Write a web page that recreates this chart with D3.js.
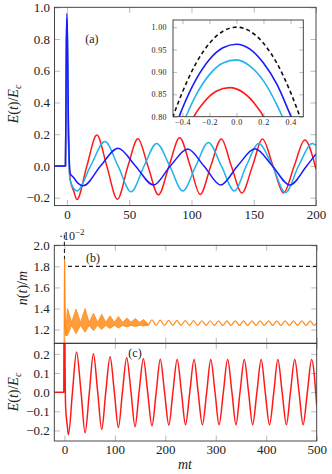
<!DOCTYPE html>
<html>
<head>
<meta charset="utf-8">
<script src="https://cdn.jsdelivr.net/npm/d3@7/dist/d3.min.js"></script>
<style>
  body { margin: 0; background: #fff; }
</style>
</head>
<body>
<div id="chart"></div>
<script>
// Valeurs

// panneau (a) : E(t)/Ec
const aXTicks = [0, 50, 100, 150, 200];
const aYTicks = [-0.2, 0, 0.2, 0.4, 0.6, 0.8, 1.0];
const aRed = [[-10,0],[-1.2,0],[-0.3,0.80],[0,0.863],[0.3,0.80],[1,0.3],[2.5,-0.08],[5.5,-0.16],[8,-0.212],[16,0],[24,0.195],[32,0],[40.5,-0.21],[49,0],[57,0.172],[65,0],[73.5,-0.182],[82,0],[90.5,0.178],[99,0],[107,-0.18],[115.5,0],[124,0.17],[132,0],[140.5,-0.17],[149,0],[157,0.17],[165.5,0],[174,-0.17],[182.5,0],[191,0.163],[200,-0.02]];
const aCyan = [[-10,0],[-1.2,0],[-0.4,0.80],[0,0.927],[0.4,0.80],[1.2,0.15],[2.5,-0.09],[5,-0.137],[8,-0.158],[19,0],[30.5,0.154],[41,0],[51.5,-0.163],[62,0],[72,0.142],[82.5,0],[93,-0.158],[103.5,0],[113.5,0.148],[124,0],[134.5,-0.158],[144,0],[154,0.141],[165,0],[175.5,-0.168],[186,0],[197,0.141],[200,0.13]];
const aBlue = [[-10,0],[-1.2,0],[-0.45,0.80],[0,0.962],[0.4,0.80],[1.3,0.2],[2.7,-0.05],[5,-0.07],[9,-0.11],[13,-0.125],[27,0],[41,0.112],[55,0],[69.5,-0.12],[83,0],[97,0.106],[110,0],[123.5,-0.12],[137,0],[151,0.108],[165,0],[179,-0.12],[192.5,0],[200,0.076]];

// encart autour du pic
const insXTicks = [-0.4, -0.2, 0, 0.2, 0.4];
const insYTicks = [0.80, 0.85, 0.90, 0.95, 1.00];
const insBlack = [[-0.49,0.783],[-0.47,0.80],[-0.4,0.855],[-0.3,0.919],[-0.2,0.964],[-0.1,0.991],[0,1.0],[0.1,0.991],[0.2,0.964],[0.3,0.919],[0.4,0.855],[0.47,0.80],[0.49,0.783]];
const insBlue = [[-0.44,0.79],[-0.425,0.80],[-0.4,0.819],[-0.3,0.883],[-0.2,0.928],[-0.1,0.954],[0,0.962],[0.1,0.951],[0.2,0.920],[0.3,0.872],[0.405,0.80],[0.42,0.79]];
const insCyan = [[-0.39,0.79],[-0.375,0.80],[-0.3,0.848],[-0.2,0.894],[-0.1,0.920],[0,0.927],[0.1,0.913],[0.2,0.880],[0.3,0.826],[0.34,0.80],[0.355,0.79]];
const insRed = [[-0.33,0.79],[-0.315,0.80],[-0.25,0.829],[-0.15,0.857],[-0.05,0.865],[0.05,0.854],[0.15,0.823],[0.2,0.80],[0.215,0.79]];

// panneau (b) : n(t)/m (x 10^-2)
const bXTicks = [0, 100, 200, 300, 400, 500];
const bYTicks = [1.2, 1.4, 1.6, 1.8, 2.0];
const bBlack = [[-0.1,2.1],[0.5,1.8],[500,1.8]];
const bSpike = [[-20,1.0],[-0.4,1.0],[0.3,1.87],[1.2,1.45],[2.5,1.15],[4,1.2]];
// enveloppe des paquets rapides : [t, bas, haut]
const bBlobs = [[2.5,1.14,1.16],[6,1.145,1.40],[14.5,1.24,1.27],[23,1.16,1.395],[32,1.24,1.27],[41,1.175,1.40],[49,1.24,1.27],[57.5,1.19,1.355],[66,1.24,1.27],[74,1.20,1.345],[82,1.24,1.27],[90.5,1.21,1.33],[99,1.24,1.27],[107,1.215,1.325],[115.5,1.24,1.27],[124,1.225,1.31],[132,1.24,1.27],[140.5,1.23,1.305],[149,1.24,1.27],[157,1.235,1.295],[165,1.24,1.26]];
const bWave = [[157,1.265],[165,1.24],[173.5,1.292],[182,1.24],[190,1.29],[198,1.24],[206.5,1.288],[215,1.24],[223,1.287],[231,1.24],[239.5,1.286],[248,1.24],[256,1.285],[264,1.24],[272.5,1.284],[281,1.24],[289,1.284],[297,1.24],[305.5,1.283],[314,1.24],[322,1.283],[330,1.24],[338.5,1.283],[347,1.24],[355,1.283],[363,1.24],[371.5,1.283],[380,1.24],[388,1.283],[396,1.24],[404.5,1.283],[413,1.24],[421,1.283],[429,1.24],[437.5,1.283],[446,1.24],[454,1.283],[462,1.24],[470.5,1.283],[479,1.24],[487,1.283],[495,1.24],[500,1.262]];

// panneau (c) : E(t)/Ec jusqu'a 500
const cXTicks = [0, 100, 200, 300, 400, 500];
const cYTicks = [-0.2, -0.1, 0, 0.1, 0.2];
const cRed = [[-20,0],[-1.2,0],[-0.3,0.8],[0,0.863],[0.3,0.8],[1,0.3],[2.5,-0.08],[5.5,-0.17],[8,-0.222],[16,0],[24,0.21],[33,0],[41,-0.212],[49.5,0],[57.5,0.20],[66,0],[74,-0.195],[82,0],[90.5,0.185],[99,0],[107,-0.185],[115,0],[123.5,0.18],[132,0],[140,-0.18],[148,0],[156.5,0.175],[165,0],[173.5,-0.175],[182,0],[190,0.172],[198.5,0],[207,-0.172],[215,0],[223.5,0.17],[232,0],[240,-0.17],[248.5,0],[257,0.17],[265,0],[273.5,-0.17],[282,0],[290,0.17],[298.5,0],[306.5,-0.17],[315,0],[323.5,0.17],[332,0],[340,-0.17],[348,0],[356.5,0.17],[365,0],[373,-0.17],[381.5,0],[390,0.17],[398,0],[406.5,-0.17],[415,0],[423,0.17],[431.5,0],[440,-0.17],[448,0],[456.5,0.17],[465,0],[473,-0.17],[481.5,0],[490,0.17],[500,-0.07]];

const colRed = "#ff1a1a", colCyan = "#22b4ec", colBlue = "#1a1aff", colOrange = "#ff8c1a";
const serif = "Liberation Serif";

const svg = d3.select("#chart").append("svg")
    .attr("width", 332)
    .attr("height", 474)
    .attr("font-family", serif);

// Creer un panneau : groupe, echelles, clip
function panel(id, left, top, w, h, xDom, yDom) {
    const g = svg.append("g").attr("transform", `translate(${left},${top})`);
    const x = d3.scaleLinear().domain(xDom).range([0, w]);
    const y = d3.scaleLinear().domain(yDom).range([h, 0]);
    g.append("clipPath").attr("id", id)
        .append("rect").attr("width", w).attr("height", h);
    return {g, x, y, w, h, id};
}

// Axes avec graduations vers l'interieur sur les quatre cotes
function axes(p, xt, yt, o) {
    const t = o.tick;
    const no = () => "";
    const list = [
        [d3.axisBottom(p.x).tickValues(xt).tickFormat(o.xfmt || no).tickPadding(o.xpad), `translate(0,${p.h})`],
        [d3.axisTop(p.x).tickValues(xt).tickFormat(no), "translate(0,0)"],
        [d3.axisLeft(p.y).tickValues(yt).tickFormat(o.yfmt).tickPadding(o.ypad), "translate(0,0)"],
        [d3.axisRight(p.y).tickValues(yt).tickFormat(no), `translate(${p.w},0)`]
    ];
    list.forEach(([ax, tr]) => {
        p.g.append("g")
            .attr("transform", tr)
            .call(ax.tickSizeInner(-t).tickSizeOuter(0))
            .attr("font-family", serif)
            .attr("font-size", o.fs)
            .attr("letter-spacing", o.ls || 0);
    });
    p.g.selectAll(".domain").remove();
    p.g.selectAll(".tick line").attr("stroke", "#a8a8a8").attr("stroke-width", 0.8);
    p.g.selectAll(".tick text").attr("fill", "#222");
}

function frame(p) {
    p.g.append("rect")
        .attr("width", p.w).attr("height", p.h)
        .attr("fill", "none").attr("stroke", "#333").attr("stroke-width", 0.9);
}

function curve(p, data, color, width, dash, clip = true) {
    const line = d3.line()
        .x(d => p.x(d[0]))
        .y(d => p.y(d[1]))
        .curve(d3.curveMonotoneX);
    const path = p.g.append("path")
        .datum(data)
        .attr("d", line)
        .attr("fill", "none")
        .attr("stroke", color)
        .attr("stroke-width", width)
        .attr("stroke-linejoin", "round");
    if (dash) path.attr("stroke-dasharray", dash);
    if (clip) path.attr("clip-path", `url(#${p.id})`);
    return path;
}

const f1 = d3.format(".1f"), f2 = d3.format(".2f"), fd = d3.format("d");

// --- (a) ---
const pa = panel("clipA", 54.5, 7.3, 261.5, 198.3, [-10, 200], [-0.25, 1.0]);
axes(pa, aXTicks, aYTicks, {tick: 5.5, fs: 13, xfmt: fd, yfmt: f1, xpad: 4.5, ypad: 4.5});
curve(pa, aRed, colRed, 1.5);
curve(pa, aCyan, colCyan, 1.5);
curve(pa, aBlue, colBlue, 1.5);
frame(pa);
pa.g.append("text").attr("x", pa.x(20)).attr("y", 36).attr("font-size", 12)
    .attr("text-anchor", "middle").text("(a)");

// encart
const pi = panel("clipI", 173, 20, 130.3, 96.7, [-0.47, 0.495], [0.80, 1.016]);
pi.g.append("rect").attr("width", pi.w).attr("height", pi.h).attr("fill", "#fff");
axes(pi, insXTicks, insYTicks, {tick: 4, fs: 8, ls: 0.4, xfmt: f1, yfmt: f2, xpad: 3, ypad: 6});
curve(pi, insBlack, "#111", 1.6, "4,3");
curve(pi, insBlue, colBlue, 1.6);
curve(pi, insCyan, colCyan, 1.6);
curve(pi, insRed, colRed, 1.6);
frame(pi);

// --- (b) ---
const pb = panel("clipB", 54.3, 245.3, 262.4, 98, [-20, 500], [1.07, 2.0]);
axes(pb, bXTicks, bYTicks, {tick: 5.5, fs: 13, yfmt: f1, xpad: 4, ypad: 4.5});
curve(pb, bBlack, "#222", 1.1, "4,3", false);
const area = d3.area()
    .x(d => pb.x(d[0]))
    .y0(d => pb.y(d[1]))
    .y1(d => pb.y(d[2]));
pb.g.append("path")
    .datum(bBlobs)
    .attr("d", area)
    .attr("fill", colOrange)
    .attr("fill-opacity", 0.85)
    .attr("stroke", colOrange)
    .attr("stroke-width", 0.8)
    .attr("clip-path", "url(#clipB)");
curve(pb, bSpike, colOrange, 1.3);
curve(pb, bWave, colOrange, 1.2);
frame(pb);
pb.g.append("text").attr("x", 93 - 54.3).attr("y", 17).attr("font-size", 12)
    .attr("text-anchor", "middle").text("(b)");
const mult = svg.append("text").attr("x", 59).attr("y", 240).attr("font-size", 12);
mult.append("tspan").text("·10");
mult.append("tspan").attr("dy", -5).attr("font-size", 9).text("−2");

// --- (c) ---
const pc = panel("clipC", 54.3, 343.3, 262.4, 97.7, [-20, 500], [-0.255, 0.255]);
axes(pc, cXTicks, cYTicks, {tick: 5.5, fs: 13, xfmt: fd, yfmt: f1, xpad: 4, ypad: 4.5});
curve(pc, cRed, colRed, 1.5);
frame(pc);
pc.g.append("text").attr("x", 135 - 54.3).attr("y", 14).attr("font-size", 12)
    .attr("text-anchor", "middle").text("(c)");

// Titres des axes
function eLabel(cx, cy) {
    const t = svg.append("text")
        .attr("transform", `translate(${cx},${cy}) rotate(-90)`)
        .attr("text-anchor", "middle")
        .attr("font-size", 14);
    t.append("tspan").attr("font-style", "italic").text("E");
    t.append("tspan").text("(");
    t.append("tspan").attr("font-style", "italic").text("t");
    t.append("tspan").text(")/");
    t.append("tspan").attr("font-style", "italic").text("E");
    t.append("tspan").attr("font-style", "italic").attr("font-size", 10).attr("dy", 3).text("c");
}
eLabel(18, 104);
eLabel(18, 392);

const nl = svg.append("text")
    .attr("transform", "translate(27,288) rotate(-90)")
    .attr("text-anchor", "middle")
    .attr("font-size", 14);
nl.append("tspan").attr("font-style", "italic").text("n");
nl.append("tspan").text("(");
nl.append("tspan").attr("font-style", "italic").text("t");
nl.append("tspan").text(")/");
nl.append("tspan").attr("font-style", "italic").text("m");

svg.append("text")
    .attr("x", 185).attr("y", 469)
    .attr("text-anchor", "middle")
    .attr("font-size", 14)
    .attr("font-style", "italic")
    .text("mt");

svg.selectAll("text").attr("fill", "#222");
</script>
</body>
</html>
